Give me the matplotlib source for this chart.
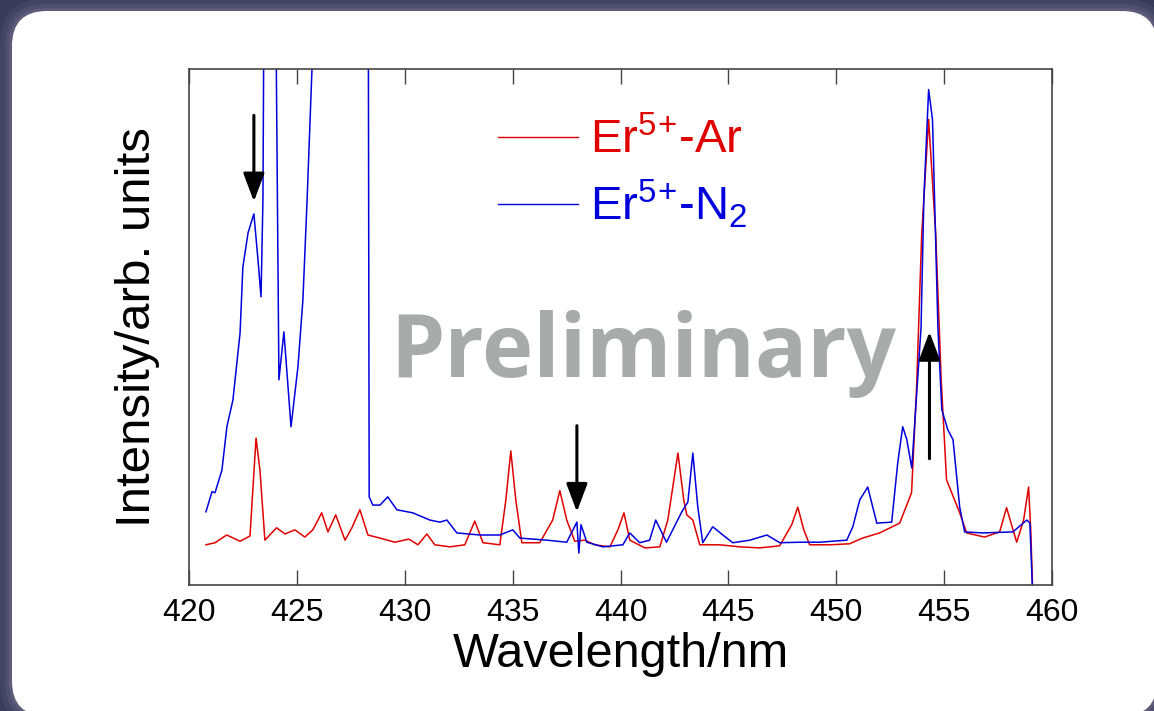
import matplotlib
matplotlib.use("Agg")
import matplotlib.pyplot as plt
from matplotlib.patches import FancyBboxPatch

plt.rcParams['font.family'] = ['Liberation Sans', 'DejaVu Sans']
plt.rcParams['mathtext.fontset'] = 'custom'
plt.rcParams['mathtext.rm'] = 'Liberation Sans'
plt.rcParams['mathtext.it'] = 'Liberation Sans:italic'
plt.rcParams['mathtext.bf'] = 'Liberation Sans:bold'

# Er5+-Ar spectrum (arb. units, axis top = 100)
wl_ar = [420.80, 421.22, 421.76, 422.38, 422.84, 423.12, 423.30, 423.53, 424.07, 424.46,
         424.92, 425.38, 425.75, 426.16, 426.45, 426.81, 427.24, 427.56, 427.93, 428.30,
         428.86, 429.55, 430.20, 430.62, 431.03, 431.40, 432.10, 432.79, 433.25, 433.63,
         434.41, 434.69, 434.92, 435.15, 435.43, 436.26, 436.86, 437.19, 437.51, 437.88,
         438.35, 438.81, 439.51, 439.88, 440.16, 440.43, 441.13, 441.82, 442.19, 442.66,
         442.93, 443.07, 443.35, 443.67, 444.60, 445.52, 446.45, 447.37, 447.93, 448.21,
         448.49, 448.76, 449.69, 450.61, 451.21, 452.00, 452.93, 453.48, 453.71, 453.95,
         454.27, 454.60, 454.85, 455.10, 455.71, 456.03, 456.86, 457.56, 457.88, 458.11,
         458.35, 458.67, 458.90, 459.00, 459.09]
int_ar = [7.8, 8.2, 9.7, 8.5, 9.5, 28.5, 22.3, 8.7, 11.1, 9.9,
          10.7, 9.3, 10.7, 14.0, 10.3, 13.6, 8.7, 11.1, 14.6, 9.7,
          9.1, 8.3, 8.9, 7.8, 9.9, 7.8, 7.4, 7.8, 12.4, 8.2,
          7.8, 16.5, 26.0, 16.5, 8.2, 8.2, 12.6, 18.3, 12.6, 8.5,
          8.7, 7.8, 7.4, 10.7, 14.0, 8.7, 7.2, 7.4, 12.6, 25.6,
          16.5, 13.6, 12.6, 7.8, 7.8, 7.4, 7.2, 7.6, 11.7, 15.1,
          10.7, 7.8, 7.8, 8.0, 9.1, 10.1, 12.0, 17.9, 38.0, 68.0,
          90.3, 68.0, 40.0, 20.4, 14.0, 10.1, 9.3, 10.3, 15.0, 11.7,
          8.3, 12.6, 19.0, 10.7, -1.0]

# Er5+-N2 spectrum
wl_n2 = [420.80, 421.08, 421.22, 421.54, 421.77, 422.05, 422.38, 422.51, 422.75, 423.02,
         423.21, 423.35, 423.44, 423.53, 423.76, 424.04, 424.18, 424.41, 424.74, 425.06,
         425.29, 425.48, 425.71, 426.00, 426.50, 427.50, 428.20, 428.32, 428.36, 428.53,
         428.86, 429.22, 429.64, 430.38, 431.17, 431.63, 431.96, 432.42, 433.49, 434.41,
         435.01, 435.34, 436.59, 437.51, 437.98, 438.07, 438.17, 438.44, 439.18, 440.11,
         440.43, 440.89, 441.35, 441.63, 442.13, 442.84, 443.12, 443.35, 443.58, 443.81,
         444.27, 444.74, 445.20, 445.99, 446.78, 447.38, 448.31, 449.23, 450.48, 450.76,
         451.08, 451.45, 451.87, 452.56, 452.84, 453.07, 453.26, 453.49, 453.76, 453.92,
         454.05, 454.27, 454.45, 454.70, 454.88, 455.16, 455.40, 455.71, 455.94, 456.78,
         458.17, 458.82, 458.96, 459.10]
int_n2 = [14.2, 18.1, 17.9, 22.3, 30.7, 35.9, 48.9, 61.7, 68.3, 72.0,
          63.1, 55.9, 74.8, 150.0, 170.0, 110.0, 39.8, 49.1, 30.7, 42.3,
          55.3, 74.2, 100.0, 130.0, 160.0, 170.0, 150.0, 110.0, 17.1, 15.5,
          15.5, 17.1, 14.6, 14.0, 12.6, 12.2, 12.6, 10.1, 9.7, 9.7,
          10.7, 9.1, 8.7, 8.3, 12.2, 6.2, 11.7, 8.3, 7.4, 7.8,
          10.1, 8.2, 8.7, 12.6, 8.3, 14.2, 16.1, 25.6, 15.1, 8.2,
          11.3, 9.7, 8.2, 8.7, 9.7, 8.2, 8.3, 8.3, 8.7, 11.3,
          16.5, 19.0, 12.0, 12.2, 23.7, 30.7, 28.2, 22.7, 39.8, 50.0,
          75.0, 96.1, 90.3, 50.0, 34.0, 30.1, 28.2, 15.1, 10.3, 10.1,
          10.3, 12.6, 12.0, -3.0]

labels = ['Er$^{5}$$^{+}$-Ar', 'Er$^{5}$$^{+}$-N$_{2}$']

# arrows: (wavelength, tail intensity, tip intensity)
arrows = [(423.02, 91.1, 74.4), (437.98, 30.9, 14.2), (454.31, 24.5, 49.1)]

fig = plt.figure(figsize=(11.54, 7.11), dpi=100)
fig.patch.set_facecolor('#3b3b5a')
# soft glow round the slide panel
for grow, a in [(0.12, 0.10), (0.07, 0.14), (0.03, 0.18)]:
    fig.patches.append(FancyBboxPatch((0.12 - grow, -0.05 - grow), 11.45 + 2 * grow, 7.05 + 2 * grow,
                                      boxstyle='round,pad=0,rounding_size=%.2f' % (0.35 + grow),
                                      transform=fig.dpi_scale_trans, facecolor='#9a9ab8',
                                      alpha=a, edgecolor='none', zorder=-11))
panel = FancyBboxPatch((0.12, -0.05), 11.45, 7.05,
                       boxstyle='round,pad=0,rounding_size=0.35',
                       transform=fig.dpi_scale_trans, facecolor='white',
                       edgecolor='none', zorder=-10)
fig.patches.append(panel)

ax = fig.add_axes([0.1635, 0.1772, 0.7484, 0.7251])
ax.set_facecolor('white')

ax.plot(wl_ar, int_ar, color='#e00000', lw=1.1, label=labels[0])
ax.plot(wl_n2, int_n2, color='#0000dd', lw=1.1, label=labels[1])

ax.set_xlim(420, 460)
ax.set_ylim(0, 100)
ax.set_xticks(range(420, 461, 5))
ax.set_yticks([])
ax.tick_params(axis='x', direction='in', top=True, length=11, width=1,
               color='#444444', labelsize=23, pad=9)
for s in ax.spines.values():
    s.set_color('#444444')
    s.set_linewidth(1.2)

ax.set_xlabel('Wavelength/nm', fontsize=35, labelpad=3)
ax.set_ylabel('Intensity/arb. units', fontsize=35.5, labelpad=21)

ax.text(441.06, 40.4, 'Preliminary', fontsize=62.5, fontweight='bold',
        family='Open Sans', color='#a8abaa', ha='center', va='baseline', zorder=1)

for x, y0, y1 in arrows:
    ax.annotate('', xy=(x, y1), xytext=(x, y0),
                arrowprops=dict(arrowstyle='-|>,head_length=1.73,head_width=0.65',
                                mutation_scale=10, color='black', lw=2.2,
                                shrinkA=0, shrinkB=0), zorder=4)

leg = ax.legend(loc='upper left', bbox_to_anchor=(0.358, 0.905), frameon=False,
                fontsize=34, handlelength=1.7, handletextpad=0.25,
                labelspacing=0.3, borderpad=0, borderaxespad=0,
                labelcolor='linecolor')
for h in leg.get_lines():
    h.set_linewidth(1.0)

fig.savefig('out.png', dpi=100, facecolor=fig.get_facecolor())
